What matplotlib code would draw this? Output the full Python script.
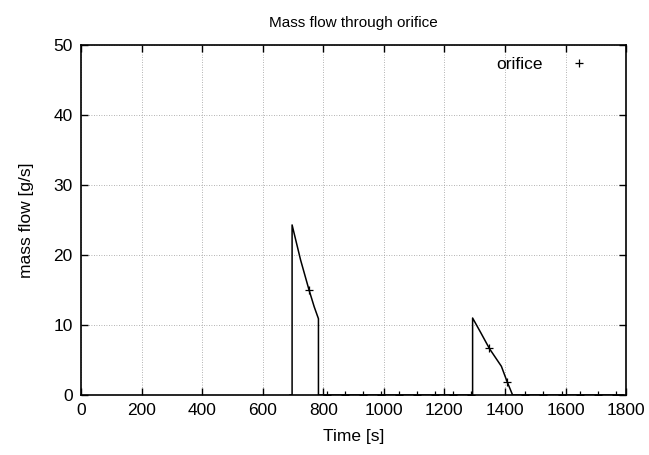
import numpy as np
import matplotlib as mpl
mpl.use("Agg")
import matplotlib.pyplot as plt
from matplotlib.lines import Line2D

plt.rcParams.update({
    "font.family": "sans-serif",
    "font.sans-serif": ["Liberation Sans", "DejaVu Sans"],
    "font.size": 12,
})

# mass flow trace (time in s, flow in g/s)
t_line = [690, 697, 697, 725, 753, 770, 784, 784, 1293, 1293, 1320, 1349, 1388, 1407, 1425, 1790]
m_line = [0, 0, 24.3, 19.3, 15.0, 12.6, 10.9, 0, 0, 11.0, 8.9, 6.6, 4.1, 1.9, 0, 0]

# sampled points shown with "+" markers
t_mark = [752, 812, 872, 931, 991, 1051, 1110, 1170, 1229, 1289, 1348, 1407,
          1467, 1527, 1587, 1646, 1706, 1766]
m_mark = [15.0, 0, 0, 0, 0, 0, 0, 0, 0, 0, 6.7, 1.9,
          0, 0, 0, 0, 0, 0]

fig = plt.figure(figsize=(6.49, 4.55), dpi=100)
ax = fig.add_axes([0.1248, 0.1319, 0.84, 0.769])

ax.plot(t_line, m_line, "-", color="black", lw=1.1, zorder=3)
ax.plot(t_mark, m_mark, "+", color="black", ms=6, mew=0.9, zorder=4)

ax.set_xlim(0, 1800)
ax.set_ylim(0, 50)
ax.set_xticks(np.arange(0, 1801, 200))
ax.set_yticks(np.arange(0, 51, 10))
ax.grid(True, ls=(0, (1, 2)), color="#999999", lw=0.6)
ax.tick_params(direction="in", top=True, right=True, length=5, width=1.0,
               labelsize=12.5, pad=6)
for s in ax.spines.values():
    s.set_linewidth(1.2)

ax.set_xlabel("Time [s]", fontsize=12.5, labelpad=8)
ax.set_ylabel("mass flow [g/s]", fontsize=12.5, labelpad=14)
ax.set_title("Mass flow through orifice", fontsize=11, pad=13)

h = Line2D([], [], ls="none", marker="+", color="black", ms=6, mew=0.9)
ax.legend([h], ["orifice"], loc="upper right", frameon=False, markerfirst=False,
          fontsize=12.5, handlelength=2.5, borderaxespad=0.3,
          bbox_to_anchor=(0.975, 1.0))

fig.savefig("out.png", dpi=100)
